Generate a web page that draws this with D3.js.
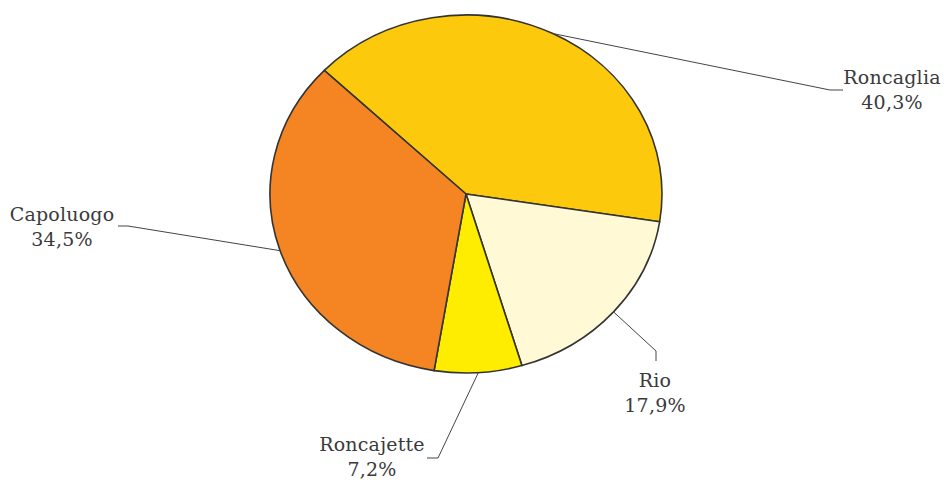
<!DOCTYPE html>
<html><head><meta charset="utf-8">
<script src="https://cdn.jsdelivr.net/npm/d3@7"></script>
<style>
html,body{margin:0;padding:0;background:#fff;}
svg{display:block;}
</style></head>
<body>
<svg id="chart" width="944" height="480"></svg>
<script>
const categories = ["Roncaglia", "Rio", "Roncajette", "Capoluogo"];
const values = [40.3, 17.9, 7.2, 34.5];
const valueLabels = ["40,3%", "17,9%", "7,2%", "34,5%"];
const colors = ["#FDC90C", "#FFF9D6", "#FFED00", "#F58423"];

const W = 944, H = 480;
const cx = 466, cy = 194, rx = 196, ry = 179;
const startDeg = -46.3;
const FONT = "DejaVu Serif, Liberation Serif, serif";

// label layout: elbow point, elbow end, text anchor x, first baseline y
const layout = [
  {elbow:[830,90], end:[843,90], tx:892, ty:84},
  {elbow:[656,351], end:[656,361], tx:655, ty:387},
  {elbow:[438,458], end:[427,458], tx:372, ty:451},
  {elbow:[128,226], end:[118,226], tx:62, ty:221}
];

const svg = d3.select("#chart");
const data = categories.map((c,i)=>({name:c, value:values[i], label:valueLabels[i], color:colors[i]}));

const a0 = startDeg*Math.PI/180;
const pie = d3.pie().sort(null).value(d=>d.value).startAngle(a0).endAngle(a0+2*Math.PI);
const arcs = pie(data);

const arc = d3.arc().innerRadius(0).outerRadius(rx);

const g = svg.append("g").attr("transform", `translate(${cx},${cy}) scale(1,${ry/rx})`);
g.selectAll("path").data(arcs).enter().append("path")
  .attr("d", arc)
  .attr("fill", d=>d.data.color)
  .attr("stroke", "#333")
  .attr("stroke-width", 1.6)
  .attr("stroke-linejoin", "round")
  .attr("vector-effect", "non-scaling-stroke");

const lines = svg.append("g");
arcs.forEach((d,i)=>{
  const m = (d.startAngle + d.endAngle)/2;
  const p0 = [cx + rx*Math.sin(m), cy - ry*Math.cos(m)];
  const L = layout[i];
  lines.append("polyline")
    .attr("points", [p0, L.elbow, L.end].map(p=>p.join(",")).join(" "))
    .attr("fill","none").attr("stroke","#444").attr("stroke-width",1);
  const t = svg.append("text").attr("text-anchor","middle")
    .attr("font-family", FONT)
    .attr("fill", "#3a3a3a")
    .attr("font-size", 19).attr("letter-spacing", 0.2);
  t.append("tspan").attr("x", L.tx).attr("y", L.ty).text(d.data.name);
  t.append("tspan").attr("x", L.tx).attr("y", L.ty+25).text(d.data.label);
});
</script>
</body></html>
